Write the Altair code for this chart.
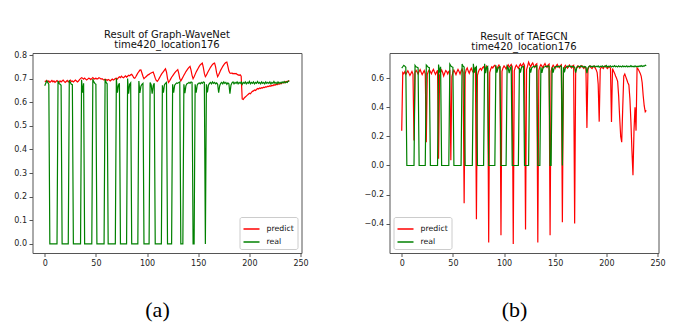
import altair as alt
import pandas as pd

# ---- data ----
real = [
    0.670, 0.680, 0.690, 0.684, 0.676,
    0, 0, 0, 0, 0, 0, 0, 0,
    0.690, 0.680, 0.676, 0.672,
    0, 0, 0, 0, 0, 0, 0,
    0.692, 0.684, 0.676, 0.674,
    0, 0, 0, 0, 0, 0, 0, 0,
    0.695, 0.640, 0.680,
    0, 0, 0, 0, 0, 0, 0, 0,
    0.698, 0.686, 0.680, 0.676,
    0, 0, 0, 0, 0, 0, 0, 0,
    0.698, 0.684, 0.678,
    0, 0, 0, 0, 0, 0, 0, 0,
    0.700, 0.640, 0.672, 0.680,
    0, 0, 0, 0, 0, 0, 0,
    0.700, 0.636, 0.676, 0.682,
    0, 0, 0, 0, 0, 0, 0,
    0.690, 0.640, 0.668, 0.676, 0.680,
    0, 0, 0, 0, 0, 0,
    0.684, 0.674, 0.636, 0.670, 0.680,
    0, 0, 0, 0, 0, 0, 0,
    0.672, 0.640, 0.674, 0.680, 0.684,
    0, 0, 0, 0, 0,
    0.676, 0.640, 0.672, 0.678, 0.682, 0.680, 0.684, 0.686,
    0, 0, 0,
    0.676, 0.638, 0.670, 0.678, 0.680, 0.684, 0.680, 0.686, 0.684,
    0, 0,
    0.676, 0.640, 0.672, 0.680, 0.682, 0.678, 0.684, 0.680, 0.686, 0.684,
    0,
    0.676, 0.642, 0.672, 0.680, 0.684, 0.678, 0.686, 0.680, 0.684, 0.678,
    0.682, 0.676, 0.640, 0.670, 0.680, 0.684, 0.678, 0.686, 0.680, 0.684,
    0.676, 0.682, 0.678, 0.636, 0.672, 0.682, 0.686, 0.678, 0.684, 0.680,
    0.686, 0.678, 0.684, 0.680, 0.686, 0.676, 0.684, 0.680, 0.686, 0.678,
    0.684, 0.680, 0.688, 0.678, 0.684, 0.680, 0.686, 0.678, 0.684, 0.680,
    0.688, 0.680, 0.684, 0.678, 0.686, 0.680, 0.684, 0.678, 0.686, 0.680,
    0.684, 0.680, 0.686, 0.678, 0.684, 0.680, 0.688, 0.680, 0.684, 0.678,
    0.686, 0.680, 0.684, 0.680, 0.686, 0.682, 0.688, 0.682, 0.686, 0.684,
    0.690, 0.688,
]

predict_a = [
    0.690, 0.688, 0.692, 0.686, 0.690, 0.684, 0.688, 0.692, 0.686, 0.690,
    0.684, 0.688, 0.692, 0.688, 0.684, 0.690, 0.686, 0.690, 0.694, 0.688,
    0.684, 0.688, 0.692, 0.686, 0.690, 0.694, 0.688, 0.690, 0.686, 0.690,
    0.694, 0.690, 0.686, 0.690, 0.696, 0.700, 0.704, 0.702, 0.698, 0.702,
    0.698, 0.694, 0.698, 0.702, 0.700, 0.696, 0.700, 0.704, 0.700, 0.698,
    0.702, 0.698, 0.700, 0.704, 0.702, 0.698, 0.700, 0.696, 0.694, 0.698,
    0.696, 0.692, 0.696, 0.694, 0.690, 0.694, 0.698, 0.694, 0.696, 0.700,
    0.702, 0.698, 0.704, 0.708, 0.704, 0.710, 0.706, 0.704, 0.708, 0.712,
    0.706, 0.710, 0.714, 0.712, 0.716, 0.718, 0.712, 0.704, 0.702, 0.708,
    0.716, 0.724, 0.730, 0.736, 0.737, 0.724, 0.710, 0.700, 0.704, 0.708,
    0.712, 0.716, 0.718, 0.722, 0.724, 0.726, 0.728, 0.716, 0.702, 0.692,
    0.688, 0.694, 0.702, 0.710, 0.718, 0.724, 0.730, 0.736, 0.742, 0.728,
    0.700, 0.684, 0.690, 0.698, 0.706, 0.712, 0.718, 0.724, 0.730, 0.734,
    0.738, 0.722, 0.700, 0.690, 0.698, 0.706, 0.714, 0.722, 0.730, 0.736,
    0.742, 0.748, 0.752, 0.736, 0.714, 0.700, 0.708, 0.718, 0.728, 0.736,
    0.744, 0.752, 0.758, 0.762, 0.766, 0.748, 0.722, 0.708, 0.714, 0.724,
    0.732, 0.740, 0.748, 0.754, 0.760, 0.764, 0.766, 0.750, 0.724, 0.708,
    0.716, 0.726, 0.736, 0.744, 0.752, 0.758, 0.764, 0.768, 0.770, 0.752,
    0.732, 0.724, 0.722, 0.724, 0.720, 0.722, 0.720, 0.722, 0.718, 0.716,
    0.714, 0.716, 0.710, 0.614, 0.612, 0.618, 0.622, 0.626, 0.630, 0.634,
    0.638, 0.636, 0.642, 0.646, 0.648, 0.652, 0.650, 0.654, 0.658, 0.656,
    0.660, 0.658, 0.662, 0.660, 0.664, 0.662, 0.666, 0.664, 0.668, 0.666,
    0.670, 0.668, 0.672, 0.670, 0.674, 0.672, 0.676, 0.674, 0.678, 0.676,
    0.680, 0.678, 0.682, 0.684, 0.682, 0.686, 0.688, 0.686, 0.690, 0.692,
]

predict_b = [
    0.240, 0.640, 0.632, 0.646, 0.628, 0.640, 0.652, 0.636, 0.620, 0.634,
    0.648, 0.630, 0.172, 0.640, 0.656, 0.644, 0.630, 0.648, 0.660, 0.642,
    0.626, 0.640, 0.654, 0.632, 0.160, 0.628, 0.648, 0.660, 0.646, 0.632,
    0.650, 0.662, 0.644, 0.628, 0.642, 0.656, 0.047, 0.620, 0.644, 0.658,
    0.640, 0.616, 0.636, 0.654, 0.646, 0.630, 0.648, 0.652, 0.036, 0.612,
    0.640, 0.656, 0.642, 0.626, 0.646, 0.662, 0.648, 0.630, 0.650, 0.664,
    0.640, -0.260, 0.630, 0.660, 0.672, 0.650, 0.634, 0.656, 0.670, 0.652,
    0.640, 0.662, 0.676, -0.370, 0.620, 0.646, 0.662, 0.668, 0.656, 0.674,
    0.680, 0.664, 0.672, 0.684, 0.668, -0.530, 0.640, 0.664, 0.680, 0.672,
    0.684, 0.690, 0.674, 0.662, 0.680, 0.692, 0.676, -0.480, 0.648, 0.672,
    0.686, 0.676, 0.664, 0.684, 0.694, 0.678, 0.686, 0.696, 0.680, -0.540,
    0.652, 0.676, 0.690, 0.680, 0.668, 0.686, 0.698, 0.684, 0.692, 0.704,
    0.690, -0.440, 0.660, 0.684, 0.712, 0.694, 0.680, 0.696, 0.706, 0.688,
    0.676, 0.694, 0.700, -0.530, 0.656, 0.680, 0.694, 0.684, 0.672, 0.690,
    0.702, 0.686, 0.676, 0.692, 0.698, -0.480, 0.650, 0.676, 0.690, 0.680,
    0.668, 0.686, 0.696, 0.682, 0.674, 0.688, 0.694, -0.390, 0.652, 0.678,
    0.690, 0.680, 0.670, 0.684, 0.692, 0.680, 0.672, 0.686, 0.690, -0.400,
    0.650, 0.676, 0.686, 0.680, 0.670, 0.682, 0.688, 0.676, 0.668, 0.680,
    0.672, 0.259, 0.660, 0.680, 0.686, 0.674, 0.668, 0.680, 0.684, 0.672,
    0.660, 0.640, 0.560, 0.302, 0.660, 0.680, 0.674, 0.668, 0.680, 0.686,
    0.676, 0.668, 0.676, 0.682, 0.670, 0.300, 0.668, 0.650, 0.636, 0.616,
    0.600, 0.580, 0.480, 0.330, 0.200, 0.160, 0.400, 0.616, 0.630, 0.610,
    0.590, 0.570, 0.555, 0.460, 0.300, 0.100, -0.067, 0.240, 0.400, 0.240,
    0.672, 0.664, 0.650, 0.636, 0.616, 0.570, 0.480, 0.410, 0.370, 0.380,
]

series_names = ["predict", "real"]
series_colors = ["#ff0000", "#008000"]
x_ticks = [0, 50, 100, 150, 200, 250]
y_ticks_a = [0.0, 0.1, 0.2, 0.3, 0.4, 0.5, 0.6, 0.7, 0.8]
y_ticks_b = [-0.4, -0.2, 0.0, 0.2, 0.4, 0.6]
title_a = ["Result of Graph-WaveNet", "time420_location176"]
title_b = ["Result of TAEGCN", "time420_location176"]
captions = ["(a)", "(b)"]

FONT = "DejaVu Sans"
W, H = 269, 200


def auto_limits(values):
    lo, hi = min(values), max(values)
    m = 0.05 * (hi - lo)
    return [lo - m, hi + m]


def panel(pred, title, yticks, legend_orient, caption):
    df = pd.concat([
        pd.DataFrame({"t": list(range(len(pred))), "value": pred, "series": "predict"}),
        pd.DataFrame({"t": list(range(len(real))), "value": real, "series": "real"}),
    ], ignore_index=True)
    xdom = auto_limits(list(range(max(len(pred), len(real)))))
    ydom = auto_limits(pred + real)
    lines = alt.Chart(df).mark_line(strokeWidth=1.2).encode(
        x=alt.X("t:Q", scale=alt.Scale(domain=xdom, nice=False, zero=False),
                axis=alt.Axis(values=x_ticks, title=None, format="d")),
        y=alt.Y("value:Q", scale=alt.Scale(domain=ydom, nice=False, zero=False),
                axis=alt.Axis(values=yticks, title=None, format=".1f")),
        color=alt.Color("series:N",
                        scale=alt.Scale(domain=series_names, range=series_colors),
                        legend=alt.Legend(title=None, orient=legend_orient, offset=4,
                                          symbolType="stroke", symbolSize=256,
                                          symbolStrokeWidth=1.5,
                                          labelFontSize=7.8, labelFont=FONT,
                                          labelColor="#111", labelOffset=6,
                                          fillColor="white", strokeColor="#cccccc",
                                          padding=3, cornerRadius=2, rowPadding=-4)),
    )
    cap = alt.Chart(pd.DataFrame({"c": [caption]})).mark_text(
        font="Liberation Serif", fontSize=22, align="center", baseline="alphabetic",
        color="black"
    ).encode(text="c:N", x=alt.value(125), y=alt.value(264))
    return alt.layer(lines, cap).properties(
        width=W, height=H,
        title=alt.Title(title, fontSize=10, font=FONT, fontWeight="normal",
                        color="#111", offset=1, lineHeight=10.5, anchor="middle"),
    )


pa = panel(predict_a, title_a, y_ticks_a, "bottom-right", captions[0])
pb = panel(predict_b, title_b, y_ticks_b, "bottom-left", captions[1])

chart = alt.hconcat(pa, pb, spacing=88, bounds="flush").resolve_scale(
    x="independent", y="independent", color="independent"
).resolve_legend(color="independent").properties(
    padding={"left": 12.5, "top": 29, "right": 5, "bottom": 5}
).configure_view(stroke="#555555", strokeWidth=1).configure_axis(
    domain=False, grid=False, tickSize=3.5, tickColor="#555555", labelPadding=2.5,
    labelFontSize=8, labelFont=FONT, labelColor="#222222",
    labelFlush=False, labelOverlap=False
)

chart.save("out.html", embed_options={"renderer": "svg", "actions": False})
